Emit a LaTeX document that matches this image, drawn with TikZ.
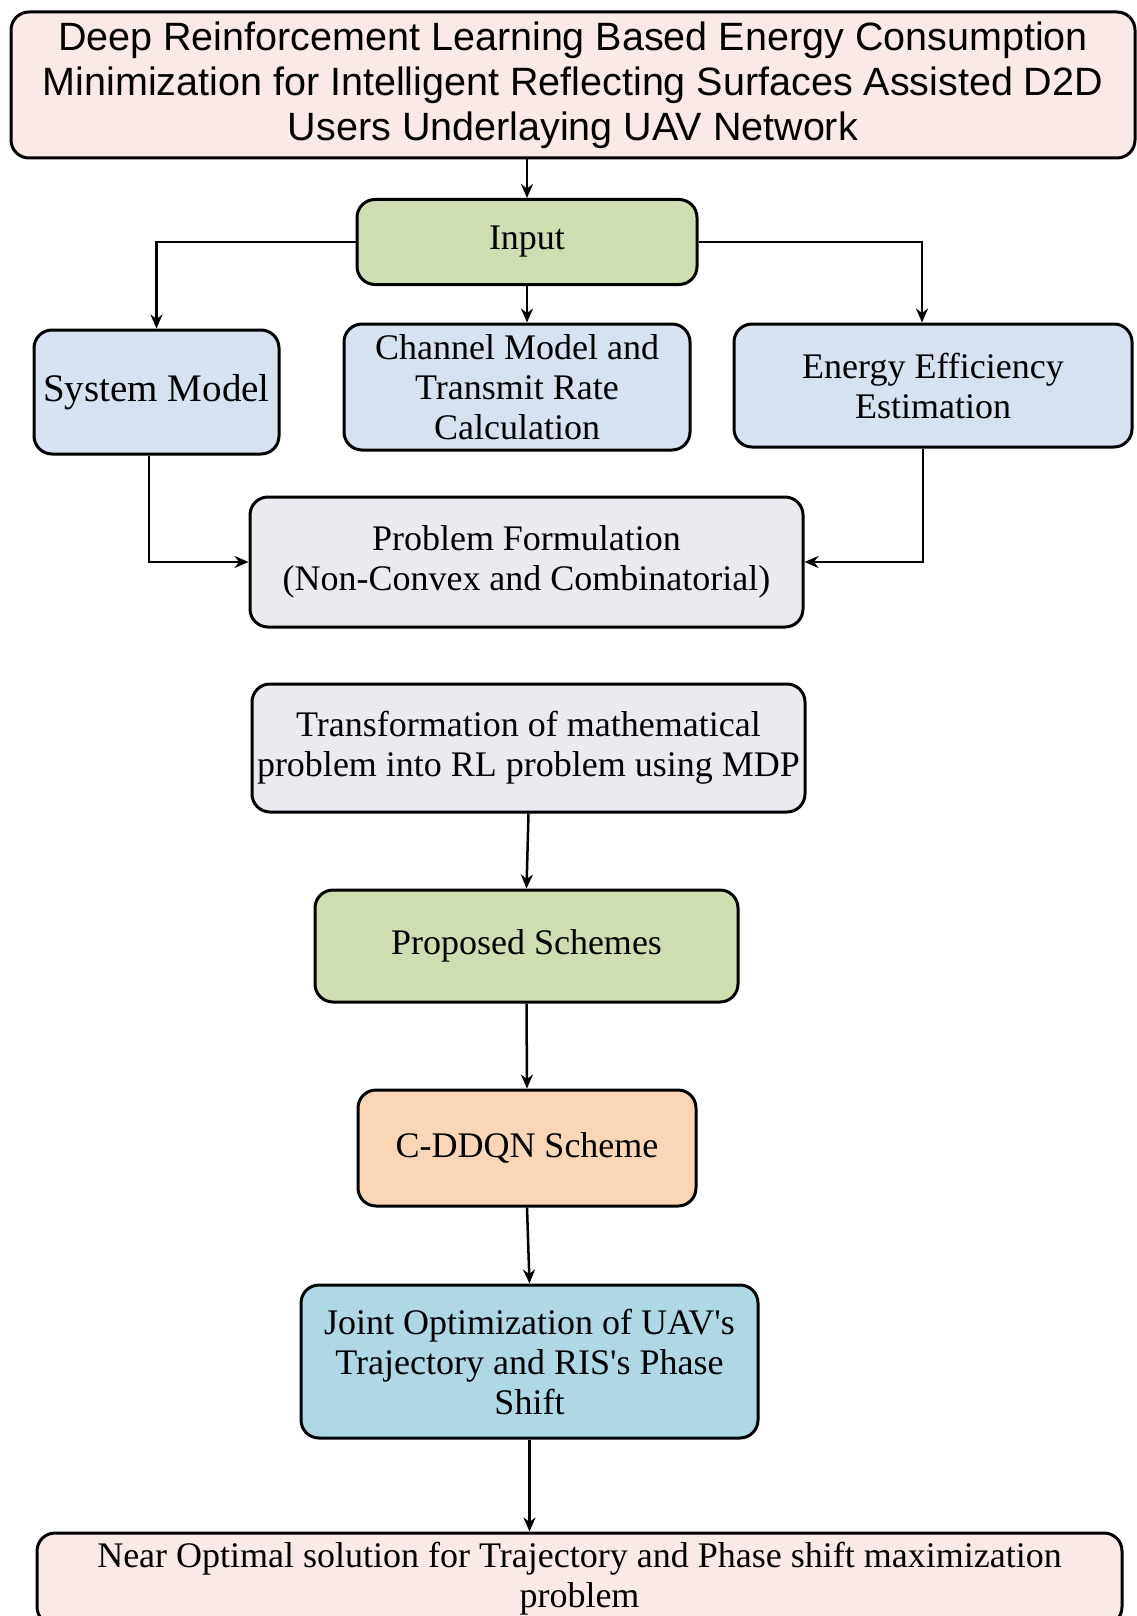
\documentclass[tikz,border=0pt]{standalone}
\usepackage{fontspec}
\setmainfont{Liberation Serif}
\newfontfamily\titlefont{Liberation Sans}
\usetikzlibrary{arrows.meta}

\definecolor{boxpink}{RGB}{249,234,232}
\definecolor{boxgreen}{RGB}{206,222,176}
\definecolor{boxblue}{RGB}{214,226,239}
\definecolor{boxlav}{RGB}{236,233,241}
\definecolor{boxorange}{RGB}{250,214,183}
\definecolor{boxcyan}{RGB}{173,216,228}

\tikzset{
  flowbox/.style={draw=black, line width=3pt, rounded corners=18pt,
    align=center, inner sep=4pt, text=black,
    font=\fontsize{36}{40}\selectfont},
  arr/.style={line width=2.5pt, -{Stealth[length=14pt,width=12pt]}}
}

\begin{document}
\begin{tikzpicture}[x=1pt, y=-1pt]
  \useasboundingbox (0,0) rectangle (1137,1616);

  % title
  \node[flowbox, fill=boxpink, minimum width=1124pt, minimum height=146pt,
        font=\titlefont\fontsize{39.5}{45}\selectfont] (title) at (573,85)
    {Deep Reinforcement Learning Based Energy Consumption\\
     Minimization for Intelligent Reflecting Surfaces Assisted D2D\\
     Users Underlaying UAV Network};

  % input stage
  \node[flowbox, fill=boxgreen, minimum width=340pt, minimum height=85pt] (input) at (527,242) {Input};

  \node[flowbox, fill=boxblue, minimum width=245pt, minimum height=124pt,
        font=\fontsize{39}{43}\selectfont] (sysmodel) at (156.5,392) {System Model};
  \node[flowbox, fill=boxblue, minimum width=346pt, minimum height=126pt] (channel) at (517,387)
    {Channel Model and\\ Transmit Rate\\ Calculation};
  \node[flowbox, fill=boxblue, minimum width=398pt, minimum height=123pt] (energy) at (933,385.5)
    {Energy Efficiency\\ Estimation};

  \node[flowbox, fill=boxlav, minimum width=553pt, minimum height=130pt] (problem) at (526.5,562)
    {Problem Formulation\\ (Non-Convex and Combinatorial)};

  \node[flowbox, fill=boxlav, minimum width=553pt, minimum height=128pt] (transform) at (528.5,748)
    {Transformation of mathematical\\ problem into RL problem using MDP};

  \node[flowbox, fill=boxgreen, minimum width=423pt, minimum height=112pt] (proposed) at (526.5,946)
    {Proposed Schemes};

  \node[flowbox, fill=boxorange, minimum width=338pt, minimum height=116pt] (cddqn) at (527,1148)
    {C-DDQN Scheme};

  \node[flowbox, fill=boxcyan, minimum width=457pt, minimum height=153pt] (joint) at (529.5,1361.5)
    {Joint Optimization of UAV\textquotesingle s\\ Trajectory and RIS\textquotesingle s Phase\\ Shift};

  \node[flowbox, fill=boxpink, minimum width=1085pt, minimum height=92pt] (near) at (579.5,1579)
    {Near Optimal solution for Trajectory and Phase shift maximization\\ problem};

  % connectors
  \draw[arr] (input.north |- title.south) -- (input.north);
  \draw[arr] (input.west) -| (sysmodel.north);
  \draw[arr] (input.east) -| ([xshift=-11pt]energy.north);
  \draw[arr] (input.south) -- (input.south |- channel.north);

  \draw[arr] ([xshift=-7.5pt]sysmodel.south) |- (problem.west);
  \draw[arr] ([xshift=-10pt]energy.south) |- (problem.east);

  \draw[arr] (transform.south) -- (proposed.north);
  \draw[arr] (proposed.south) -- (cddqn.north);
  \draw[arr] (cddqn.south) -- (joint.north);
  \draw[arr] (joint.south) -- (joint.south |- near.north);
\end{tikzpicture}
\end{document}
